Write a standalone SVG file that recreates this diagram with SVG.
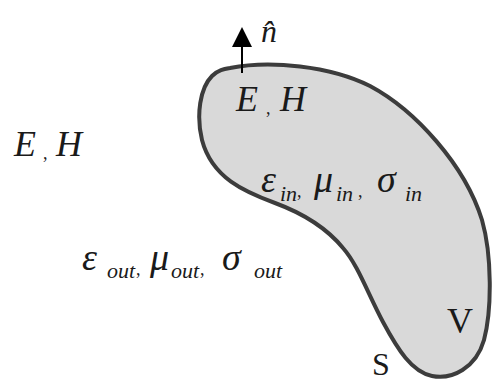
<svg xmlns="http://www.w3.org/2000/svg" width="494" height="381" viewBox="0 0 494 381">
<style>
.m{font-family:"Liberation Serif","Times New Roman",serif;font-style:italic;fill:#1a1a1a}
.r{font-family:"Liberation Serif","Times New Roman",serif;fill:#1a1a1a}
.sub{font-size:22px}
.sep{font-family:"Liberation Serif",serif;font-style:normal;font-size:18px}
</style>
<defs>
<marker id="arr" markerWidth="20" markerHeight="20" refX="0" refY="10" orient="auto" markerUnits="userSpaceOnUse" viewBox="0 0 20 20">
<path d="M0,0 L20,10 L0,20 Z" fill="#000"/>
</marker>
</defs>
<rect width="494" height="381" fill="#fff"/>
<g id="region">
<path d="M 230,68 C 270,60 330,66 370,86 C 415,110 465,165 482,220 C 492,255 492,310 484,340 C 476,368 452,380 432,376 C 412,372 398,350 383,322 C 368,294 358,265 343,248 C 325,226 302,213 275,203 C 245,192 212,178 202,140 C 196,115 200,88 212,76 C 218,70 224,69 230,68 Z" fill="#d9d9d9" stroke="#3c3c3c" stroke-width="4"/>
</g>
<g id="connectors">
<line x1="242" y1="73" x2="242" y2="47" stroke="#000" stroke-width="2" marker-end="url(#arr)"/>
</g>
<g id="normal-label">
<text class="m" x="261" y="42" font-size="32">n̂</text>
</g>
<g id="outer-fields">
<text class="m" y="156" font-size="36"><tspan x="14">E</tspan><tspan class="sep" x="43" y="159">,</tspan><tspan x="56" y="156">H</tspan></text>
</g>
<g id="inner-fields">
<text class="m" y="111" font-size="36"><tspan x="236">E</tspan><tspan class="sep" x="266" y="114">,</tspan><tspan x="280" y="111">H</tspan></text>
</g>
<g id="inner-params">
<text class="m" font-size="38" y="192"><tspan x="261">ε</tspan><tspan class="sub" x="280" y="201">in</tspan><tspan class="sep" x="297" y="197">,</tspan><tspan x="314" y="192">μ</tspan><tspan class="sub" x="336" y="201">in</tspan><tspan class="sep" x="358" y="197">,</tspan><tspan x="377" y="192">σ</tspan><tspan class="sub" x="405" y="201">in</tspan></text>
</g>
<g id="outer-params">
<text class="m" font-size="38" y="270"><tspan x="82">ε</tspan><tspan class="sub" x="107" y="278">out</tspan><tspan class="sep" x="136" y="275">,</tspan><tspan x="150" y="270">μ</tspan><tspan class="sub" x="171" y="278">out</tspan><tspan class="sep" x="200" y="275">,</tspan><tspan x="222" y="270">σ</tspan><tspan class="sub" x="254" y="278">out</tspan></text>
</g>
<g id="labels">
<text class="r" x="447" y="333" font-size="36">V</text>
<text class="r" x="372" y="375" font-size="32">S</text>
</g>
</svg>
